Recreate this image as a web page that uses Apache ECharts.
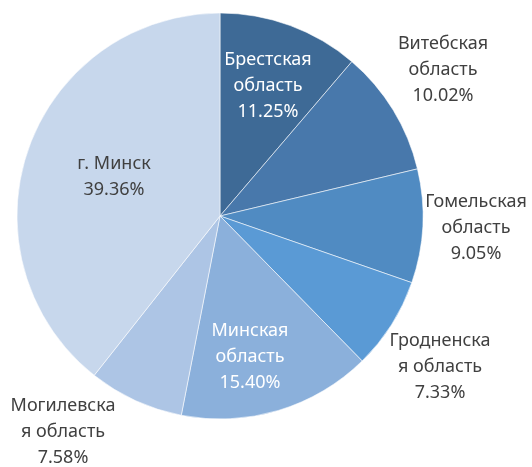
<!DOCTYPE html>
<html>
<head>
<meta charset="utf-8">
<script src="https://cdn.jsdelivr.net/npm/echarts@6/dist/echarts.min.js"></script>
<style>
  html, body { margin: 0; padding: 0; background: #fff; }
  #chart { width: 532px; height: 467px; }
</style>
</head>
<body>
<div id="chart"></div>
<script>
  // Доли регионов (%), по часовой стрелке от 12 часов
  const regions = ['Брестская область', 'Витебская область', 'Гомельская область', 'Гродненская область', 'Минская область', 'Могилевская область', 'г. Минск'];
  const shares = [11.25, 10.02, 9.05, 7.33, 15.40, 7.58, 39.36];
  // подписи с переносами как в исходнике
  const labelLines = [
    ['Брестская', 'область'],
    ['Витебская', 'область'],
    ['Гомельская', 'область'],
    ['Гродненска', 'я область'],
    ['Минская', 'область'],
    ['Могилевска', 'я область'],
    ['г. Минск']
  ];

  const colors = ['#3e6a96', '#4878ab', '#508bc2', '#5a9ad5', '#8bb0db', '#adc5e5', '#c7d7ec'];
  const labelColors = ['#fff', '#404040', '#404040', '#404040', '#fff', '#404040', '#404040'];
  // центры подписей (пиксели)
  const labelPos = [[268, 86], [443, 70], [476, 228], [440, 367], [250, 357], [63, 432], [114, 177]];

  const chart = echarts.init(document.getElementById('chart'));

  const option = {
    animation: false,
    series: [{
      type: 'pie',
      center: [220, 216],
      radius: 203,
      startAngle: 90,
      clockwise: true,
      itemStyle: {
        borderColor: 'rgba(255,255,255,0.7)',
        borderWidth: 0.8
      },
      label: {
        show: true,
        position: 'inside',
        overflow: 'none',
        fontFamily: 'Noto Sans',
        fontSize: 18,
        lineHeight: 26,
        align: 'center'
      },
      labelLine: { show: false },
      labelLayout: function (params) {
        const p = labelPos[params.dataIndex];
        return { x: p[0], y: p[1], align: 'center', verticalAlign: 'middle', hideOverlap: false };
      },
      data: regions.map(function (name, i) {
        return {
          name: name,
          value: shares[i],
          itemStyle: { color: colors[i] },
          label: {
            color: labelColors[i],
            formatter: labelLines[i].join('\n') + '\n' + shares[i].toFixed(2) + '%'
          }
        };
      })
    }]
  };

  chart.setOption(option);
</script>
</body>
</html>
